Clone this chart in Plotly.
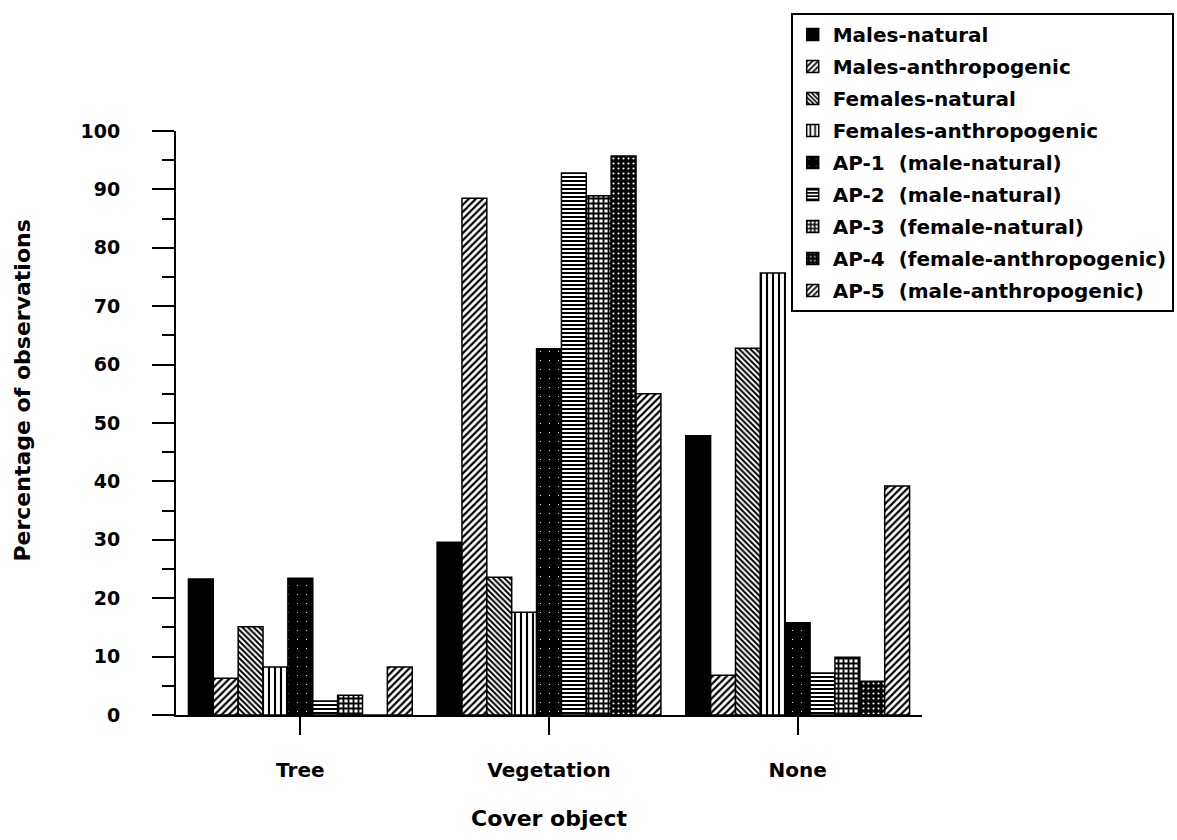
import plotly.graph_objects as go

categories = ["Tree", "Vegetation", "None"]

series_names = [
    "Males-natural",
    "Males-anthropogenic",
    "Females-natural",
    "Females-anthropogenic",
    "AP-1\u00a0\u00a0(male-natural)",
    "AP-2\u00a0\u00a0(male-natural)",
    "AP-3\u00a0\u00a0(female-natural)",
    "AP-4\u00a0\u00a0(female-anthropogenic)",
    "AP-5\u00a0\u00a0(male-anthropogenic)",
]

males_natural = [23.3, 29.6, 47.8]
males_anthropogenic = [6.3, 88.5, 6.8]
females_natural = [15.1, 23.6, 62.8]
females_anthropogenic = [8.2, 17.6, 75.7]
ap1 = [23.4, 62.7, 15.8]
ap2 = [2.4, 92.8, 7.2]
ap3 = [3.4, 88.9, 9.9]
ap4 = [0.0, 95.7, 5.8]
ap5 = [8.2, 55.0, 39.2]

values = [males_natural, males_anthropogenic, females_natural, females_anthropogenic,
          ap1, ap2, ap3, ap4, ap5]

# (shape, bgcolor, fgcolor, size, solidity)
patterns = [
    ("", "black", "black", 8, 0.5),
    ("/", "white", "black", 5, 0.45),
    ("\\", "white", "black", 4, 0.5),
    ("|", "white", "black", 6, 0.35),
    (".", "black", "white", 9, 0.012),
    ("-", "white", "black", 4, 0.5),
    ("+", "white", "black", 5, 0.6),
    (".", "black", "white", 5, 0.15),
    ("/", "white", "black", 5, 0.45),
]

FONT = "DejaVu Sans"

fig = go.Figure()
for i, (name, vals, pat) in enumerate(zip(series_names, values, patterns)):
    shape, bg, fg, size, sol = pat
    marker = dict(color=bg, line=dict(color="black", width=1.5))
    if shape:
        marker["pattern"] = dict(shape=shape, bgcolor=bg, fgcolor=fg, fgopacity=1,
                                 size=size, solidity=sol)
    fig.add_trace(go.Bar(x=categories, y=vals, name=name, marker=marker,
                         legendgroup=f"g{i}"))

fig.update_layout(
    width=1177, height=840,
    barmode="group", bargap=0.1, bargroupgap=0,
    paper_bgcolor="white", plot_bgcolor="white",
    margin=dict(l=176, r=255, t=131, b=125, autoexpand=False),
    font=dict(family=FONT, size=19, color="black", weight="bold"),
    showlegend=True,
    legend=dict(
        x=0.824, y=1.202, xanchor="left", yanchor="top",
        bordercolor="black", borderwidth=2, bgcolor="white",
        font=dict(family=FONT, size=20, color="black", weight="bold"),
        tracegroupgap=3, traceorder="grouped",
    ),
    annotations=[
        dict(text="Percentage of observations", xref="paper", yref="paper",
             x=-0.206, y=0.556, xanchor="center", yanchor="middle",
             textangle=-90, showarrow=False,
             font=dict(family=FONT, size=22, weight="bold", color="black")),
    ],
)

fig.update_xaxes(
    type="category", range=[-0.5, 2.5],
    showline=True, linecolor="black", linewidth=2,
    ticks="outside", ticklen=18, tickwidth=2, tickcolor="black",
    ticklabelstandoff=18, showgrid=False, zeroline=False,
    tickfont=dict(family=FONT, size=20, weight="bold"),
    title=dict(text="Cover object", standoff=30,
               font=dict(family=FONT, size=22, weight="bold")),
)

fig.update_yaxes(
    range=[0, 100], dtick=10, tick0=0,
    showline=True, linecolor="black", linewidth=2,
    ticks="outside", ticklen=22, tickwidth=2, tickcolor="black",
    ticklabelstandoff=28, showgrid=False, zeroline=False,
    minor=dict(dtick=5, ticks="outside", ticklen=12, tickwidth=2, tickcolor="black", showgrid=False),
    tickfont=dict(family=FONT, size=19, weight="bold"),
)

fig.write_html("out.html")
